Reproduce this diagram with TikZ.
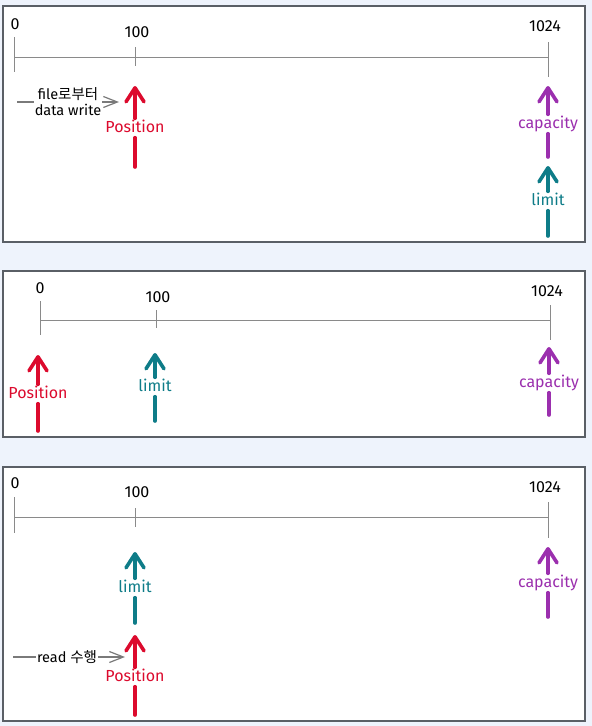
\documentclass[tikz,border=0pt]{standalone}
\usepackage{fontspec}
\setmainfont{Fira Sans}
\newfontfamily\kr{Noto Sans CJK KR}
\usetikzlibrary{arrows.meta}
\definecolor{bgc}{HTML}{EEF3FC}
\definecolor{panelc}{HTML}{5A5F66}
\definecolor{axisc}{HTML}{8A8A8A}
\definecolor{redc}{HTML}{DC0A2D}
\definecolor{purc}{HTML}{9B2FAE}
\definecolor{tealc}{HTML}{0E7C88}
\definecolor{notec}{HTML}{7A7A7A}
\begin{document}
\begin{tikzpicture}[x=1pt,y=-1pt,
  panel/.style={draw=panelc,line width=1.5pt,fill=white},
  axisline/.style={draw=axisc,line width=1pt},
  tickline/.style={draw=axisc,line width=0.9pt},
  num/.style={font=\fontsize{16}{18}\selectfont,text=black,inner sep=0pt},
  lbl/.style={font=\fontsize{16}{18}\selectfont,inner xsep=1pt,inner ysep=2.5pt,text height=11pt,text depth=3pt},
  ptr/.style={line width=3.6pt,line cap=round},
  ptrhead/.style={-{Straight Barb[length=14pt,width=18pt,round]}},
  note/.style={font=\fontsize{14.5}{16}\selectfont,align=center,inner sep=1pt,text=black},
  gline/.style={draw=notec,line width=1.2pt},
  ghead/.style={-{Straight Barb[length=14pt,width=11pt]}}
]
\fill[bgc] (0,0) rectangle (592,726);
\useasboundingbox (0,0) rectangle (592,726);

% ---------- panel 1 ----------
\draw[panel] (3,6) rectangle (585,242);
\coordinate (a1s) at (14,57); \coordinate (a1e) at (548,57);
\draw[axisline] (a1s) -- (a1e);
\coordinate (t10a) at (14,37); \coordinate (t10b) at (14,72);
\coordinate (t11a) at (135,47); \coordinate (t11b) at (135,66);
\coordinate (t12a) at (548,42); \coordinate (t12b) at (548,77);
\draw[tickline] (t10a) -- (t10b);
\draw[tickline] (t11a) -- (t11b);
\draw[tickline] (t12a) -- (t12b);
\node[num] (n10) at (15,24) {0};
\node[num] (n11) at (137,32) {100};
\node[num] (n12) at (545,26) {1024};

\coordinate (r1b) at (135,167); \coordinate (r1t) at (135,86);
\node[lbl,text=redc] (r1l) at (135,128) {Position};
\draw[ptr,redc] (r1b) -- (r1l.south);
\draw[ptr,redc,ptrhead] (r1l.north) -- (r1t);

\coordinate (c1b) at (548,157); \coordinate (c1t) at (548,86);
\node[lbl,text=purc] (c1l) at (548,124) {capacity};
\draw[ptr,purc] (c1b) -- (c1l.south);
\draw[ptr,purc,ptrhead] (c1l.north) -- (c1t);

\coordinate (l1b) at (548,236); \coordinate (l1t) at (548,166);
\node[lbl,text=tealc] (l1l) at (548,201) {limit};
\draw[ptr,tealc] (l1b) -- (l1l.south);
\draw[ptr,tealc,ptrhead] (l1l.north) -- (l1t);

\coordinate (w1s) at (17,102); \coordinate (w1e) at (119,102);
\node[note] (w1) at (68,102) {file{\kr 로부터}\\data write};
\draw[gline] (w1s) -- (w1.west);
\draw[gline,ghead] (w1.east) -- (w1e);

% ---------- panel 2 ----------
\draw[panel] (3,271) rectangle (585,437);
\coordinate (a2s) at (40,320); \coordinate (a2e) at (550,320);
\draw[axisline] (a2s) -- (a2e);
\coordinate (t20a) at (40,301); \coordinate (t20b) at (40,335);
\coordinate (t21a) at (156,310); \coordinate (t21b) at (156,328);
\coordinate (t22a) at (550,305); \coordinate (t22b) at (550,340);
\draw[tickline] (t20a) -- (t20b);
\draw[tickline] (t21a) -- (t21b);
\draw[tickline] (t22a) -- (t22b);
\node[num] (n20) at (40,288) {0};
\node[num] (n21) at (158,297) {100};
\node[num] (n22) at (547,291) {1024};

\coordinate (r2b) at (38,431); \coordinate (r2t) at (38,355);
\node[lbl,text=redc] (r2l) at (38,394) {Position};
\draw[ptr,redc] (r2b) -- (r2l.south);
\draw[ptr,redc,ptrhead] (r2l.north) -- (r2t);

\coordinate (l2b) at (155,421); \coordinate (l2t) at (155,353);
\node[lbl,text=tealc] (l2l) at (155,387) {limit};
\draw[ptr,tealc] (l2b) -- (l2l.south);
\draw[ptr,tealc,ptrhead] (l2l.north) -- (l2t);

\coordinate (c2b) at (549,415); \coordinate (c2t) at (549,347);
\node[lbl,text=purc] (c2l) at (549,383) {capacity};
\draw[ptr,purc] (c2b) -- (c2l.south);
\draw[ptr,purc,ptrhead] (c2l.north) -- (c2t);

% ---------- panel 3 ----------
\draw[panel] (3,467) rectangle (585,721);
\coordinate (a3s) at (14,517); \coordinate (a3e) at (548,517);
\draw[axisline] (a3s) -- (a3e);
\coordinate (t30a) at (14,497); \coordinate (t30b) at (14,533);
\coordinate (t31a) at (135,508); \coordinate (t31b) at (135,527);
\coordinate (t32a) at (548,502); \coordinate (t32b) at (548,538);
\draw[tickline] (t30a) -- (t30b);
\draw[tickline] (t31a) -- (t31b);
\draw[tickline] (t32a) -- (t32b);
\node[num] (n30) at (15,483) {0};
\node[num] (n31) at (137,492) {100};
\node[num] (n32) at (545,487) {1024};

\coordinate (l3b) at (135,623); \coordinate (l3t) at (135,552);
\node[lbl,text=tealc] (l3l) at (135,588) {limit};
\draw[ptr,tealc] (l3b) -- (l3l.south);
\draw[ptr,tealc,ptrhead] (l3l.north) -- (l3t);

\coordinate (r3b) at (135,715); \coordinate (r3t) at (135,635);
\node[lbl,text=redc] (r3l) at (135,677) {Position};
\draw[ptr,redc] (r3b) -- (r3l.south);
\draw[ptr,redc,ptrhead] (r3l.north) -- (r3t);

\coordinate (c3b) at (548,617); \coordinate (c3t) at (548,547);
\node[lbl,text=purc] (c3l) at (548,583) {capacity};
\draw[ptr,purc] (c3b) -- (c3l.south);
\draw[ptr,purc,ptrhead] (c3l.north) -- (c3t);

\coordinate (w3s) at (13,657); \coordinate (w3e) at (125,657);
\node[note] (w3) at (67,657) {read {\kr 수행}};
\draw[gline] (w3s) -- (w3.west);
\draw[gline,ghead] (w3.east) -- (w3e);
\end{tikzpicture}
\end{document}
